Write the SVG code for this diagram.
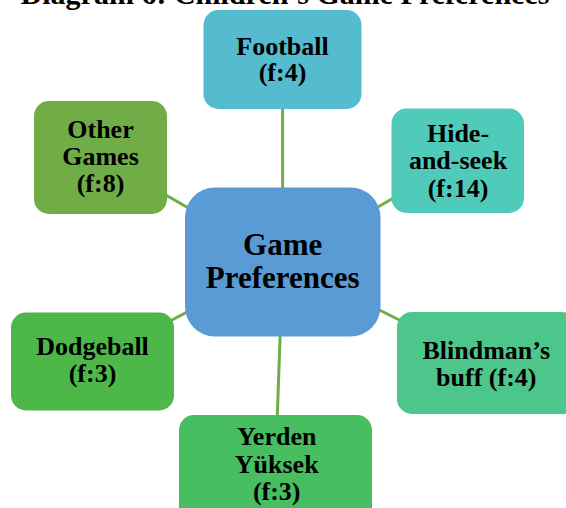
<svg xmlns="http://www.w3.org/2000/svg" width="566" height="508" viewBox="0 0 566 508">
  <style>
    .lbl { font-family: "Liberation Serif", "Times New Roman", serif; font-weight: bold; font-size: 26px; fill: #000; text-anchor: middle; }
    .hub { font-size: 31px; }
    .title { font-family: "Liberation Serif", "Times New Roman", serif; font-weight: bold; font-size: 30px; fill: #000; text-anchor: middle; }
    .edge { stroke: #70AD47; stroke-width: 3; fill: none; }
  </style>
  <rect width="566" height="508" fill="#fff"/>

  <!-- heading, running off the top edge -->
  <text class="title" x="285" y="4">Diagram 6: Children’s Game Preferences</text>

  <!-- connectors: hub centre to each leaf centre, hidden under the boxes -->
  <g id="connectors">
    <line class="edge" x1="282.7" y1="262" x2="282.5" y2="60"/>
    <line class="edge" x1="282.7" y1="262" x2="100.5" y2="157.5"/>
    <line class="edge" x1="282.7" y1="262" x2="458" y2="160.7"/>
    <line class="edge" x1="282.7" y1="262" x2="92.5" y2="361.5"/>
    <line class="edge" x1="282.7" y1="262" x2="486" y2="363"/>
    <line class="edge" x1="282.7" y1="262" x2="275.4" y2="470"/>
  </g>

  <g id="football">
    <rect x="203.5" y="10" width="158" height="99" rx="15" fill="#55BBCF"/>
    <text class="lbl" x="282.5" y="55">Football</text>
    <text class="lbl" x="282.5" y="81">(f:4)</text>
  </g>

  <g id="other-games">
    <rect x="34" y="101" width="133" height="113" rx="15" fill="#70AD47"/>
    <text class="lbl" x="100.5" y="138">Other</text>
    <text class="lbl" x="100.5" y="165">Games</text>
    <text class="lbl" x="100.5" y="192">(f:8)</text>
  </g>

  <g id="hide-and-seek">
    <rect x="391.5" y="108.5" width="132.5" height="104.5" rx="15" fill="#50CBB9"/>
    <text class="lbl" x="458" y="142">Hide-</text>
    <text class="lbl" x="458" y="169">and-seek</text>
    <text class="lbl" x="458" y="196.5">(f:14)</text>
  </g>

  <g id="game-preferences">
    <rect x="185" y="187.5" width="195.5" height="149" rx="30" fill="#5B9BD5"/>
    <text class="lbl hub" x="282.7" y="255">Game</text>
    <text class="lbl hub" x="282.7" y="288">Preferences</text>
  </g>

  <g id="dodgeball">
    <rect x="11" y="312.5" width="163" height="98" rx="15" fill="#4DB849"/>
    <text class="lbl" x="92.5" y="355">Dodgeball</text>
    <text class="lbl" x="92.5" y="381.5">(f:3)</text>
  </g>

  <g id="blindmans-buff">
    <rect x="397" y="312" width="180" height="102" rx="15" fill="#4DC68B"/>
    <text class="lbl" x="486.3" y="359">Blindman’s</text>
    <text class="lbl" x="486.3" y="385.5">buff (f:4)</text>
  </g>

  <g id="yerden-yuksek">
    <rect x="179" y="415" width="193" height="110" rx="15" fill="#47BE5F"/>
    <text class="lbl" x="276.7" y="445">Yerden</text>
    <text class="lbl" x="276.7" y="472.5">Yüksek</text>
    <text class="lbl" x="276.7" y="500">(f:3)</text>
  </g>
</svg>
